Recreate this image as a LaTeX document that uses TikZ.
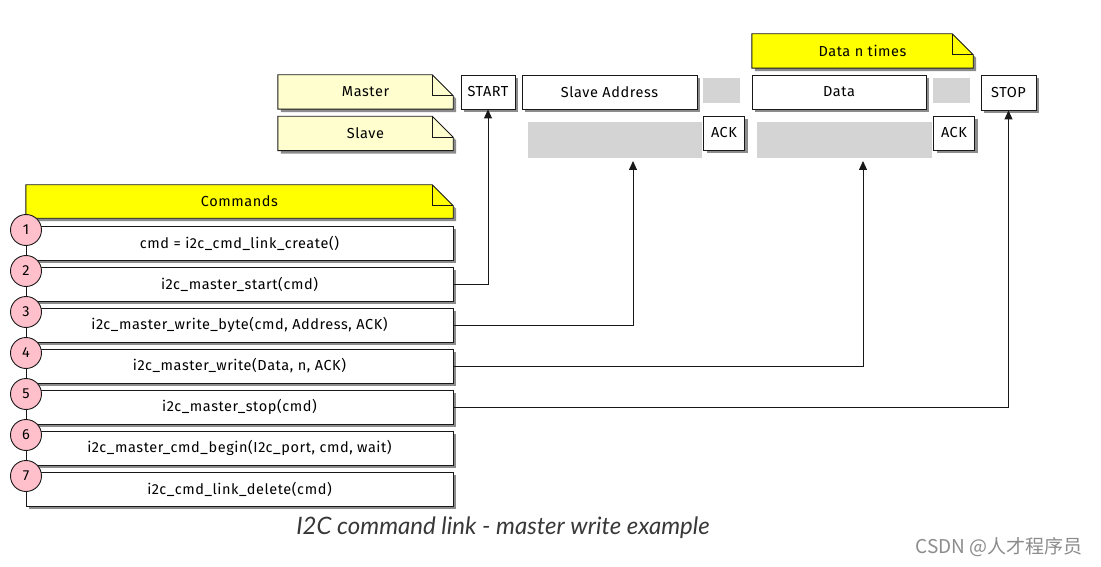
\documentclass[tikz,border=0pt]{standalone}
\usepackage{fontspec}
\setmainfont[LetterSpace=4]{Fira Sans}
\newfontfamily\capfont{Lato}
\newfontfamily\cjkfont{Noto Sans CJK SC}
\usetikzlibrary{arrows.meta}
\definecolor{notebg}{HTML}{FEFECE}
\definecolor{notey}{HTML}{FFFF00}
\definecolor{pinkc}{HTML}{FFC0CB}
\definecolor{edge}{HTML}{181818}
\definecolor{slavegray}{HTML}{D4D4D4}
\pgfdeclarelayer{bg}
\pgfsetlayers{bg,main}
\tikzset{
  shade3/.style={preaction={fill=black!45,transform canvas={xshift=3pt,yshift=-3pt}}},
  wbox/.style={draw=edge,fill=white,line width=0.9pt,inner sep=0pt,shade3,font=\fontsize{14.5}{17}\selectfont},
  notetxt/.style={inner sep=0pt,font=\fontsize{14.5}{17}\selectfont},
  notepath/.style={draw=edge,line width=0.9pt,shade3},
  cmdrow/.style={wbox,minimum width=427pt,minimum height=34pt},
  numc/.style={circle,draw=edge,fill=pinkc,line width=0.9pt,minimum size=31pt,inner sep=0pt,font=\fontsize{14.5}{17}\selectfont},
  conn/.style={draw=edge,line width=0.9pt,-{Triangle[length=9pt,width=8pt]}},
}
\newcommand{\notefold}[3]{% node name, fill, fold
  \begin{pgfonlayer}{bg}
  \path[notepath,fill=#2] (#1.north west) -- ([xshift=-#3]#1.north east) -- ([yshift=-#3]#1.north east) -- (#1.south east) -- (#1.south west) -- cycle;
  \draw[edge,line width=0.9pt] ([xshift=-#3]#1.north east) -- ([xshift=-#3,yshift=-#3]#1.north east) -- ([yshift=-#3]#1.north east);
  \end{pgfonlayer}}
\begin{document}
\begin{tikzpicture}[x=1pt,y=-1pt]
\begin{pgfonlayer}{bg}
\fill[white] (0,0) rectangle (1101,567);
\end{pgfonlayer}
\useasboundingbox (0,0) rectangle (1101,567);

% notes
\node[notetxt,minimum width=175pt,minimum height=34pt] (master) at (365.5,92) {Master};
\notefold{master}{notebg}{21pt}
\node[notetxt,minimum width=175pt,minimum height=34pt] (slave) at (365.5,133.5) {Slave};
\notefold{slave}{notebg}{21pt}
\node[notetxt,minimum width=221pt,minimum height=34pt] (ntimes) at (862.5,51) {Data n times};
\notefold{ntimes}{notey}{21pt}
\node[notetxt,minimum width=427pt,minimum height=33pt] (cmds) at (239.5,201.5) {Commands};
\notefold{cmds}{notey}{21pt}

% slave lane gray blocks
\begin{pgfonlayer}{bg}
\fill[slavegray] (703,78) rectangle (740,103);
\fill[slavegray] (528,122) rectangle (702,158);
\fill[slavegray] (933,78) rectangle (970,103);
\fill[slavegray] (757,122) rectangle (932,158);
\end{pgfonlayer}

% top boxes
\node[wbox,minimum width=54pt,minimum height=34pt] (start) at (488,92) {START};
\node[wbox,minimum width=175pt,minimum height=34pt] (saddr) at (609.5,92) {Slave Address};
\node[wbox,minimum width=41pt,minimum height=34pt] (ack1) at (724,133) {ACK};
\node[wbox,minimum width=174pt,minimum height=34pt] (data) at (839,92) {Data};
\node[wbox,minimum width=41pt,minimum height=34pt] (ack2) at (954,133) {ACK};
\node[wbox,minimum width=55pt,minimum height=35pt] (stop) at (1008.5,92.5) {STOP};

% command rows
\node[cmdrow] (r1) at (239.5,243) {cmd = i2c\_cmd\_link\_create()};
\node[cmdrow] (r2) at (239.5,284) {i2c\_master\_start(cmd)};
\node[cmdrow] (r3) at (239.5,325) {i2c\_master\_write\_byte(cmd, Address, ACK)};
\node[cmdrow] (r4) at (239.5,366) {i2c\_master\_write(Data, n, ACK)};
\node[cmdrow] (r5) at (239.5,407) {i2c\_master\_stop(cmd)};
\node[cmdrow] (r6) at (239.5,448) {i2c\_master\_cmd\_begin(I2c\_port, cmd, wait)};
\node[cmdrow] (r7) at (239.5,489) {i2c\_cmd\_link\_delete(cmd)};

% number circles
\coordinate (c1p) at (26,230);
\coordinate (c7p) at (26,476);
\draw[edge,line width=0.9pt] (c1p) -- (c7p);
\foreach \i in {1,...,7}{
  \node[numc] (c\i) at (26,{230+41*(\i-1)}) {\i};
}

% connectors
\coordinate (saT) at (633,161);
\coordinate (daT) at (863,161);
\draw[conn] (r2.east) -| (start.south);
\draw[conn] (r3.east) -| (saT);
\draw[conn] (r4.east) -| (daT);
\draw[conn] (r5.east) -| (stop.south);

% caption
\node[text=black!78,font=\capfont\itshape\fontsize{24}{27}\selectfont] (cap) at (503,528) {I2C command link - master write example};
\node[text=black!45,font=\cjkfont\fontsize{19}{22}\selectfont,anchor=east] (wm) at (1086,547) {CSDN @人才程序员};
\end{tikzpicture}
\end{document}
